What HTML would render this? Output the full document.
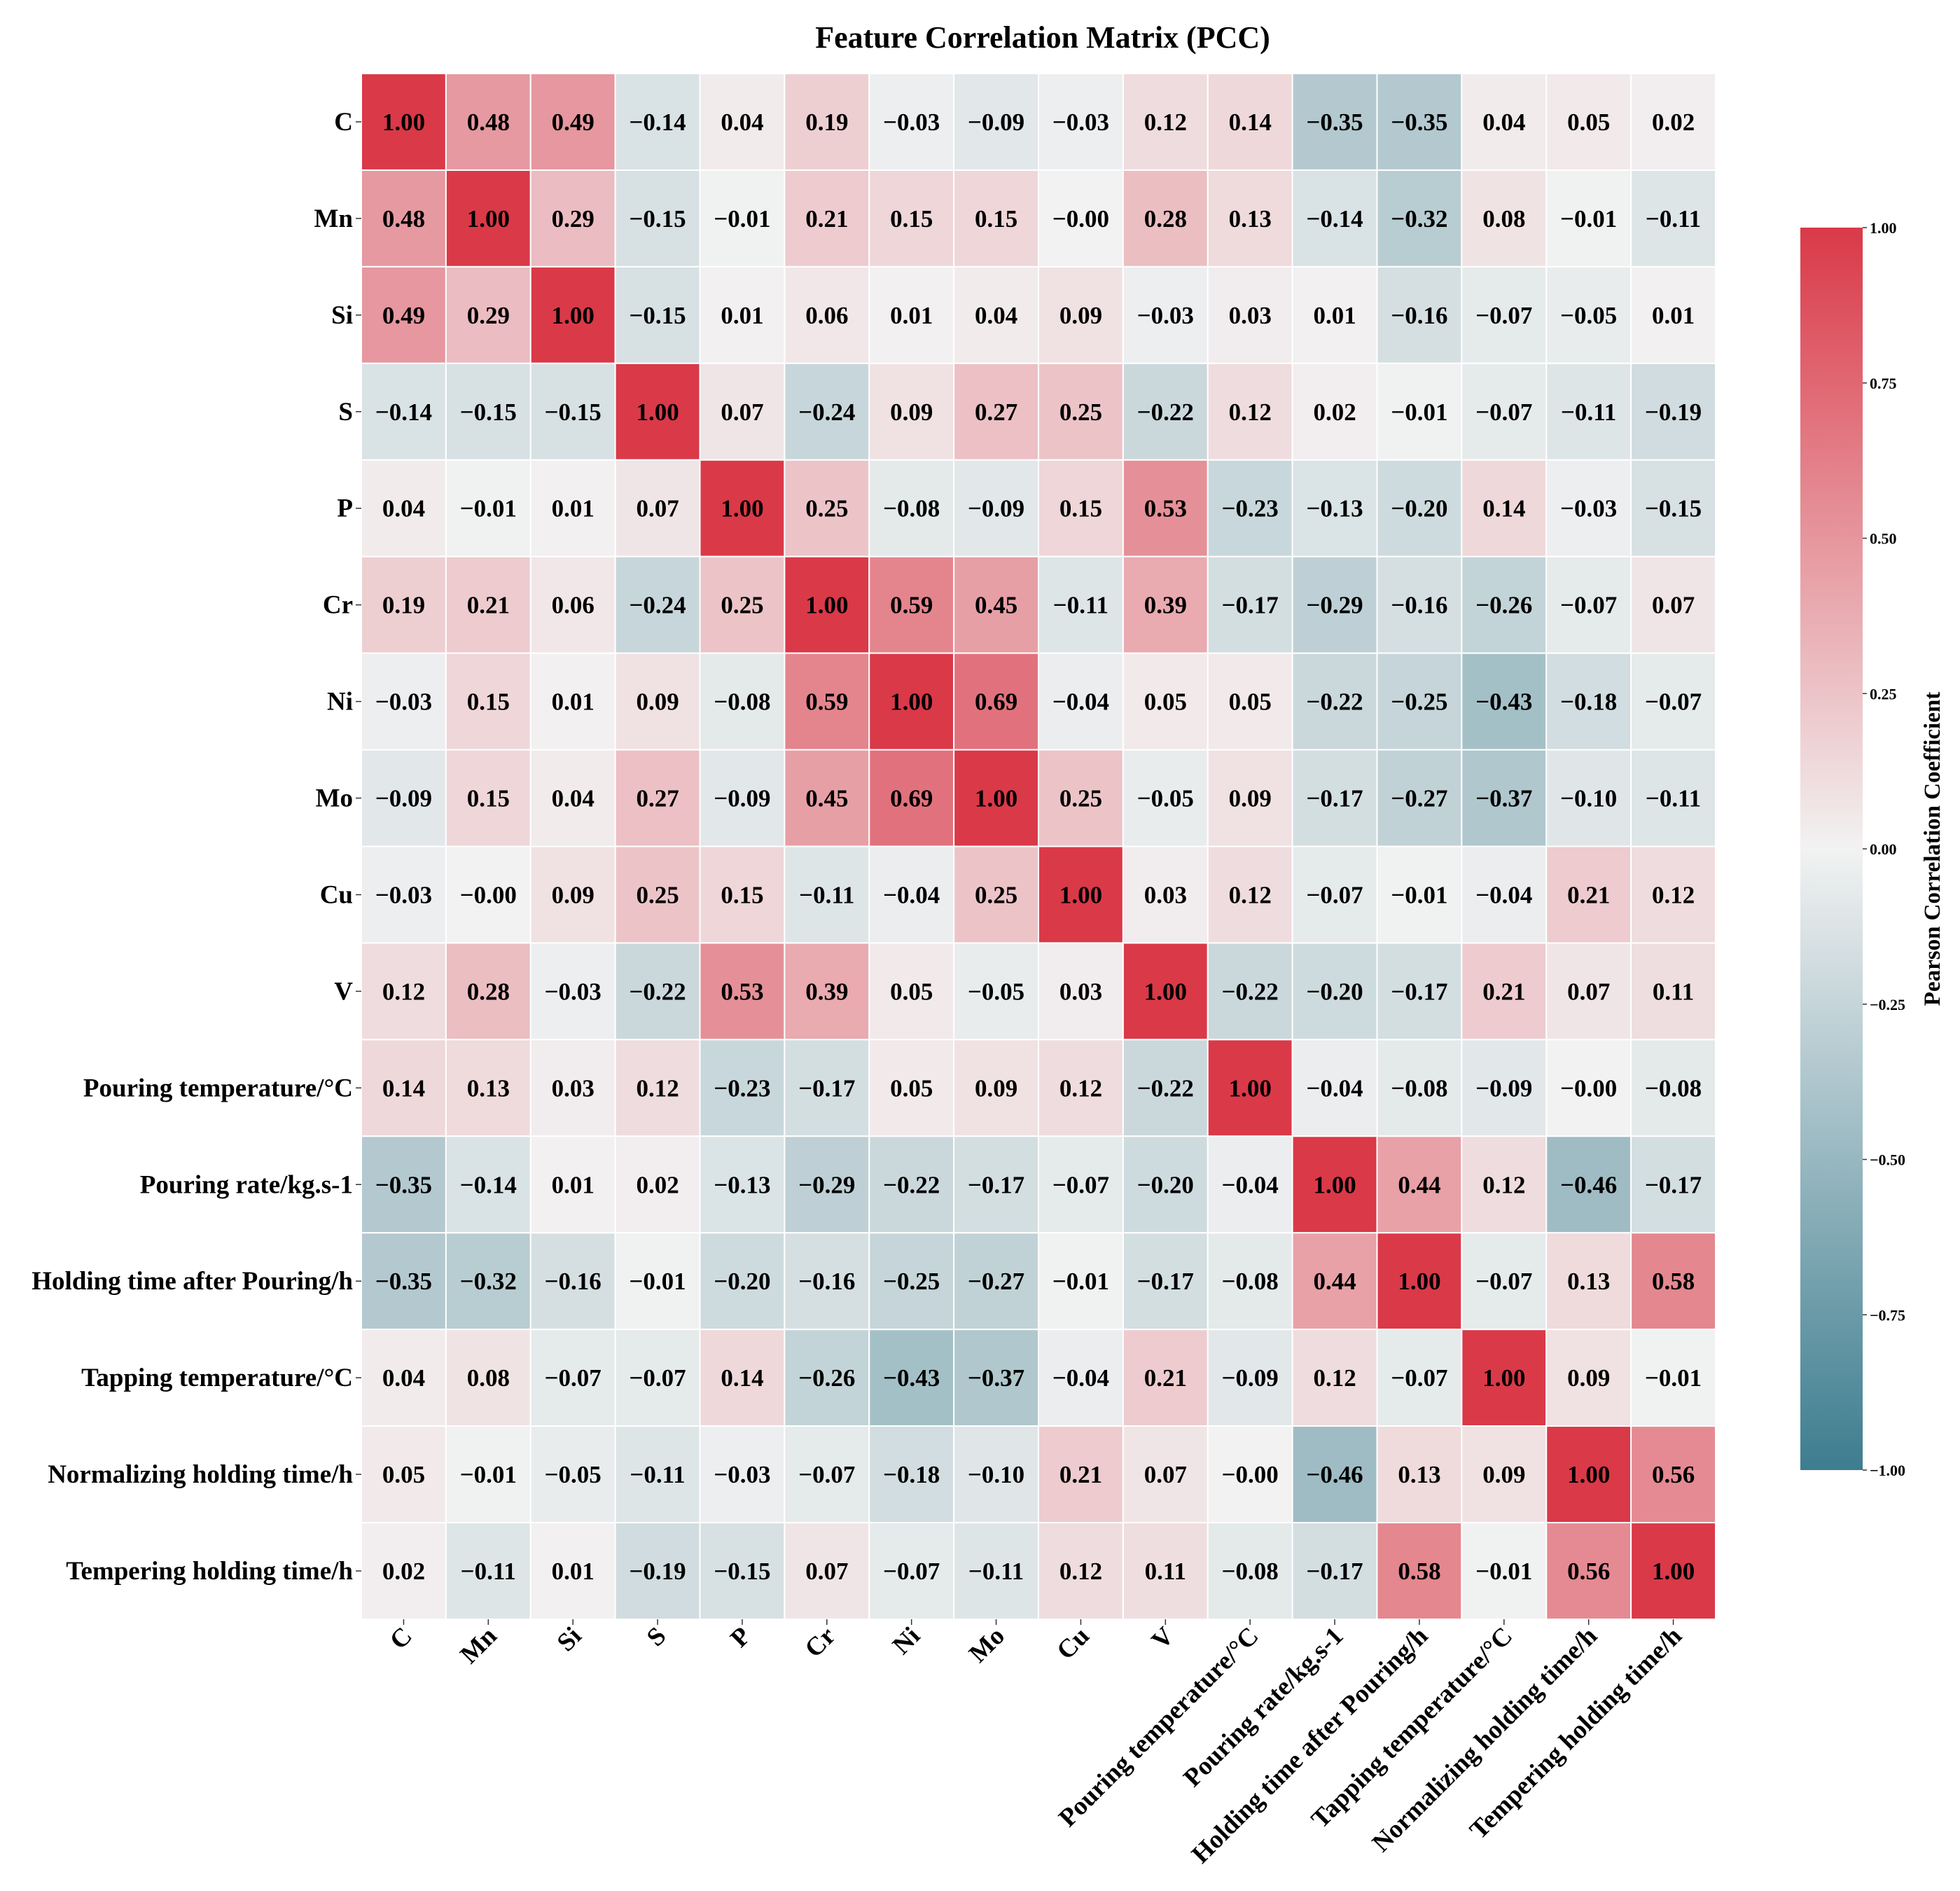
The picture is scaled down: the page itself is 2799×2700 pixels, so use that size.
<!DOCTYPE html>
<html><head><meta charset="utf-8"><style>
body{margin:0;background:#fff;}
text{font-family:"Liberation Serif",serif;font-weight:bold;fill:#000;}
</style></head><body>
<svg id="chart" width="2799" height="2695" xmlns="http://www.w3.org/2000/svg">
<defs><linearGradient id="cbg" x1="0" y1="1" x2="0" y2="0">
<stop offset="0" stop-color="rgb(61,125,143)"/><stop offset="0.5" stop-color="rgb(242,242,242)"/><stop offset="1" stop-color="rgb(218,57,72)"/>
</linearGradient></defs>
<text x="1489" y="68" font-size="44" text-anchor="middle">Feature Correlation Matrix (PCC)</text>
<g id="cells"></g><g id="ylabels"></g><g id="xlabels"></g>
<rect x="2571" y="325" width="89" height="1774" fill="url(#cbg)"/>
<g id="cbticks"></g>
<text transform="translate(2770,1212) rotate(-90)" font-size="33" text-anchor="middle">Pearson Correlation Coefficient</text>
</svg>
<script>
const labels=["C","Mn","Si","S","P","Cr","Ni","Mo","Cu","V","Pouring temperature/°C","Pouring rate/kg.s-1","Holding time after Pouring/h","Tapping temperature/°C","Normalizing holding time/h","Tempering holding time/h"];
const matrix=[
[1.00,0.48,0.49,-0.14,0.04,0.19,-0.03,-0.09,-0.03,0.12,0.14,-0.35,-0.35,0.04,0.05,0.02],
[0.48,1.00,0.29,-0.15,-0.01,0.21,0.15,0.15,-0.00,0.28,0.13,-0.14,-0.32,0.08,-0.01,-0.11],
[0.49,0.29,1.00,-0.15,0.01,0.06,0.01,0.04,0.09,-0.03,0.03,0.01,-0.16,-0.07,-0.05,0.01],
[-0.14,-0.15,-0.15,1.00,0.07,-0.24,0.09,0.27,0.25,-0.22,0.12,0.02,-0.01,-0.07,-0.11,-0.19],
[0.04,-0.01,0.01,0.07,1.00,0.25,-0.08,-0.09,0.15,0.53,-0.23,-0.13,-0.20,0.14,-0.03,-0.15],
[0.19,0.21,0.06,-0.24,0.25,1.00,0.59,0.45,-0.11,0.39,-0.17,-0.29,-0.16,-0.26,-0.07,0.07],
[-0.03,0.15,0.01,0.09,-0.08,0.59,1.00,0.69,-0.04,0.05,0.05,-0.22,-0.25,-0.43,-0.18,-0.07],
[-0.09,0.15,0.04,0.27,-0.09,0.45,0.69,1.00,0.25,-0.05,0.09,-0.17,-0.27,-0.37,-0.10,-0.11],
[-0.03,-0.00,0.09,0.25,0.15,-0.11,-0.04,0.25,1.00,0.03,0.12,-0.07,-0.01,-0.04,0.21,0.12],
[0.12,0.28,-0.03,-0.22,0.53,0.39,0.05,-0.05,0.03,1.00,-0.22,-0.20,-0.17,0.21,0.07,0.11],
[0.14,0.13,0.03,0.12,-0.23,-0.17,0.05,0.09,0.12,-0.22,1.00,-0.04,-0.08,-0.09,-0.00,-0.08],
[-0.35,-0.14,0.01,0.02,-0.13,-0.29,-0.22,-0.17,-0.07,-0.20,-0.04,1.00,0.44,0.12,-0.46,-0.17],
[-0.35,-0.32,-0.16,-0.01,-0.20,-0.16,-0.25,-0.27,-0.01,-0.17,-0.08,0.44,1.00,-0.07,0.13,0.58],
[0.04,0.08,-0.07,-0.07,0.14,-0.26,-0.43,-0.37,-0.04,0.21,-0.09,0.12,-0.07,1.00,0.09,-0.01],
[0.05,-0.01,-0.05,-0.11,-0.03,-0.07,-0.18,-0.10,0.21,0.07,-0.00,-0.46,0.13,0.09,1.00,0.56],
[0.02,-0.11,0.01,-0.19,-0.15,0.07,-0.07,-0.11,0.12,0.11,-0.08,-0.17,0.58,-0.01,0.56,1.00]];
const cbTicks=[1.00,0.75,0.50,0.25,0.00,-0.25,-0.50,-0.75,-1.00];
const NS="http://www.w3.org/2000/svg";
const X0=516,X1=2450,Y0=105,Y1=2312,n=labels.length;
const cw=(X1-X0)/n,ch=(Y1-Y0)/n;
const xS=i=>X0+i*cw, yS=i=>Y0+i*ch;
const neg=[61,125,143],mid=[242,242,242],pos=[218,57,72];
function color(v){const t=Math.abs(Math.max(-1,Math.min(1,v)));const e=v<0?neg:pos;
return `rgb(${mid.map((m,k)=>Math.round(m+(e[k]-m)*t)).join(',')})`;}
function mk(tag,attrs,parent){const el=document.createElementNS(NS,tag);for(const k in attrs)el.setAttribute(k,attrs[k]);parent.appendChild(el);return el;}
const cells=document.getElementById('cells'),yl=document.getElementById('ylabels'),xl=document.getElementById('xlabels'),cb=document.getElementById('cbticks');
const fmt=v=>((v<0||Object.is(v,-0))?'\u2212':'')+Math.abs(v).toFixed(2);
matrix.forEach((row,r)=>row.forEach((v,c)=>{
 const rc=mk('rect',{x:xS(c),y:yS(r),width:cw,height:ch,fill:color(v),stroke:'#fff','stroke-width':2},cells);
 
 
 const t=mk('text',{x:xS(c)+cw/2,y:yS(r)+ch/2+12,'font-size':35,'text-anchor':'middle'},cells);
 
 
 t.textContent=fmt(v);
}));
labels.forEach((l,i)=>{
 const cy=yS(i)+ch/2;
 mk('line',{x1:X0-8,x2:X0,y1:cy,y2:cy,stroke:'#333','stroke-width':1.5},yl);
 const t=mk('text',{x:X0-12,y:cy+12,'font-size':37,'text-anchor':'end'},yl);
 
 
 t.textContent=l;
 const cx=xS(i)+cw/2;
 mk('line',{x1:cx,x2:cx,y1:Y1,y2:Y1+8,stroke:'#333','stroke-width':1.5},xl);
 const u=mk('text',{transform:`translate(${cx+14},${Y1+26}) rotate(-45)`,'font-size':37,'text-anchor':'end'},xl);
 
 
 u.textContent=l;
});
const cbTop=325,cbBot=2099,cbY=v=>cbTop+(1-v)/2*(cbBot-cbTop);
cbTicks.forEach(v=>{
 const y=cbY(v);
 mk('line',{x1:2660,x2:2666,y1:y,y2:y,stroke:'#333','stroke-width':1.5},cb);
 const t=mk('text',{x:2670,y:y+8,'font-size':22},cb);
 
 
 t.textContent=fmt(v);
});
</script>
</body></html>
